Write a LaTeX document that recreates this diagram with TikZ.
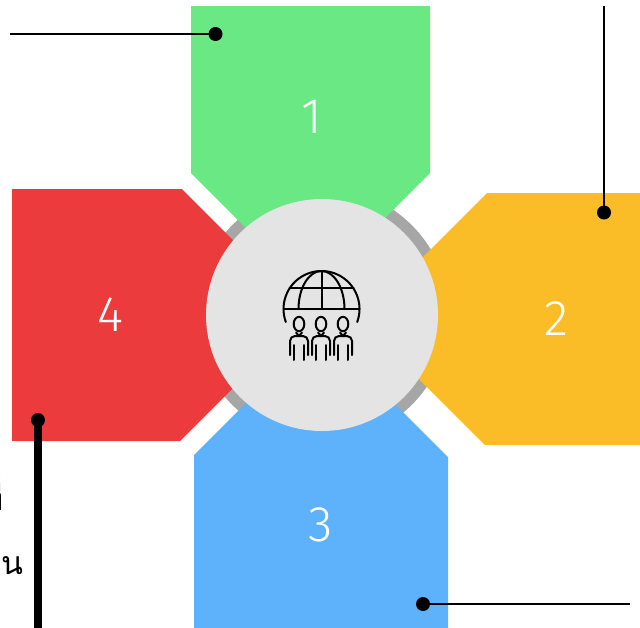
\documentclass[tikz,border=0pt]{standalone}
\usepackage{fontspec}
\newfontfamily\numfont{Fira Sans Light}
\newfontfamily\thaifont[Script=Thai]{Loma}
\definecolor{cgreen}{RGB}{106,232,132}
\definecolor{cyellow}{RGB}{251,189,39}
\definecolor{cblue}{RGB}{94,178,252}
\definecolor{cred}{RGB}{236,59,60}
\definecolor{cinner}{RGB}{228,228,228}
\definecolor{cring}{RGB}{166,166,166}
\begin{document}
\begin{tikzpicture}[x=1pt,y=-1pt,
  num/.style={text=white,font=\numfont\fontsize{50}{50}\selectfont,inner sep=0pt},
  dot/.style={circle,fill=black,inner sep=0pt,minimum size=14pt},
  leader/.style={line width=2.5pt,black},
  thick leader/.style={line width=8pt,black},
  thai/.style={font=\thaifont\fontsize{32}{32}\selectfont,inner sep=0pt,anchor=base east},
  icon/.style={line width=2pt,black,line cap=round,line join=round}]
\useasboundingbox (0,0) rectangle (640,627);
\fill[white] (0,0) rectangle (640,627);
% ring
\fill[cring] (322,315) circle[radius=127];
% petals
\fill[cgreen] (191,6) -- (430,6) -- (430,173) -- (310.5,292.5) -- (191,173) -- cycle;
\fill[cyellow] (645,193) -- (487,193) -- (360,320) -- (485,445) -- (645,445) -- cycle;
\fill[cblue] (194,455) -- (320,329) -- (448,457) -- (448,632) -- (194,632) -- cycle;
\fill[cred] (12,189) -- (182,189) -- (307,314) -- (180,441) -- (12,441) -- cycle;
% hub
\node[circle,fill=cinner,minimum size=232pt,inner sep=0pt] (hub) at (322,315) {};
% labels
\node[num] (n1) at (311.5,117) {1};
\node[num] (n2) at (556,319) {2};
\node[num] (n3) at (320.5,525) {3};
\node[num] (n4) at (110,315) {4};
% leaders
\node[dot] (d1) at (215.5,34) {};
\coordinate (e1) at (10,34);
\draw[leader] (e1) -- (d1.center);
\node[dot] (d2) at (604,212.5) {};
\coordinate (e2) at (604,6);
\draw[leader] (e2) -- (d2.center);
\node[dot] (d3) at (423,604) {};
\coordinate (e3) at (630,604);
\draw[leader] (d3.center) -- (e3);
\node[dot] (d4) at (38,420) {};
\coordinate (e4) at (38,632);
\draw[thick leader] (d4.center) -- (e4);
% cut-off text at the left edge
\node[thai] (t1) at (23.5,574) {น};
\node[thai] (t2) at (3.5,510) {ที่};
% icon: globe
\draw[icon] (285.8,322) arc[start angle=160,end angle=380,radius=38];
\draw[icon] (283.5,309) -- (359.5,309);
\draw[icon] (289.5,288) -- (353.5,288);
\draw[icon] (321.5,271) -- (321.5,309);
\draw[icon] (298.5,309) arc[start angle=180,end angle=360,x radius=23,y radius=38];
% icon: people
\foreach \cx in {299,321,343}{
  \draw[icon] (\cx,324) ellipse[x radius=5.3,y radius=7.2];
  \draw[icon] (\cx-3,332.5) -- (\cx,336) -- (\cx+3,332.5);
  \draw[icon,rounded corners=5pt] (\cx-9,355) -- (\cx-9,336) -- (\cx+9,336) -- (\cx+9,355);
  \draw[icon] (\cx-5,345) -- (\cx-5,360);
  \draw[icon] (\cx+5,345) -- (\cx+5,360);
}
\end{tikzpicture}
\end{document}
